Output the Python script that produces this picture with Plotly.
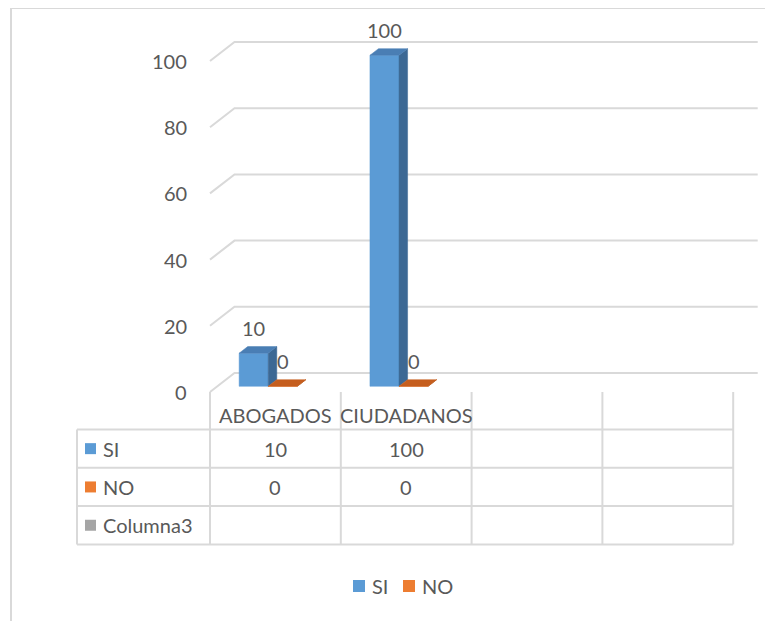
import plotly.graph_objects as go

# ---------------- data ----------------
categories = ["ABOGADOS", "CIUDADANOS", "", ""]
series_names = ["SI", "NO", "Columna3"]
si_values = [10, 100, None, None]
no_values = [0, 0, None, None]
col3_values = [None, None, None, None]
y_ticks = [0, 20, 40, 60, 80, 100]
legend_series = ["SI", "NO"]

# ---------------- styling / geometry ----------------
W, H = 773, 621
OFF = 8  # page body margin in the browser
FONT = "Lato"
TXT = "#595959"
GRID = "#d9d9d9"
front_col = {"SI": "#5B9BD5", "NO": "#ED7D31", "Columna3": "#A5A5A5"}
side_col = {"SI": "#3C6894", "NO": "#A8541B", "Columna3": "#707070"}
top_col = {"SI": "#4A7EB4", "NO": "#C55E1E", "Columna3": "#8A8A8A"}

X_PX0, X_PX_PER = 210.0 - OFF, 130.8     # figure pixel of category 0 left edge
Y_PX0, Y_PX_PER = 392.0 - OFF, 3.31      # figure pixel of value 0 on front plane
DX_PX, DY_PX = 24.5, 19.0                # depth offset of back wall (px)
x_range = [-X_PX0 / X_PX_PER, (W - X_PX0) / X_PX_PER]
y_range = [(Y_PX0 - H) / Y_PX_PER, Y_PX0 / Y_PX_PER]
DX, DY = DX_PX / X_PX_PER, DY_PX / Y_PX_PER
GAP = 1.5
BW = 1.0 / (len(series_names) + GAP)
D0, D1 = 0.3, 0.65                       # bar depth (fraction of floor depth)


def P(x, v, d):
    return x + d * DX, v + d * DY


def px_x(p):  # screen pixel -> paper
    return (p - OFF) / W


def px_y(p):
    return 1 - (p - OFF) / H


fig = go.Figure()

# ---------------- back wall gridlines + side-wall diagonals ----------------
ncat = len(categories)
for t in y_ticks:
    xs, ys = [], []
    for (x, d) in [(0, 0), (0, 1), (ncat, 1)]:
        a, b = P(x, t, d)
        xs.append(a)
        ys.append(b)
    fig.add_trace(go.Scatter(x=xs, y=ys, mode="lines",
                             line=dict(color=GRID, width=2),
                             hoverinfo="skip", showlegend=False))

# ---------------- 3D bars ----------------
series_values = {"SI": si_values, "NO": no_values, "Columna3": col3_values}
labels = []
for ci in range(ncat):
    for si, name in enumerate(series_names):
        v = series_values[name][ci]
        if v is None:
            continue
        x0 = ci + GAP / 2 * BW + si * BW
        x1 = x0 + BW
        faces = []
        faces.append(([P(x0, 0, D0), P(x1, 0, D0), P(x1, v, D0), P(x0, v, D0)], front_col[name]))
        faces.append(([P(x1, 0, D0), P(x1, 0, D1), P(x1, v, D1), P(x1, v, D0)], side_col[name]))
        faces.append(([P(x0, v, D0), P(x1, v, D0), P(x1, v, D1), P(x0, v, D1)], top_col[name]))
        for pts, col in faces:
            xs = [p[0] for p in pts] + [pts[0][0]]
            ys = [p[1] for p in pts] + [pts[0][1]]
            fig.add_trace(go.Scatter(x=xs, y=ys, mode="lines", fill="toself",
                                     fillcolor=col, line=dict(color=col, width=0.5),
                                     hoverinfo="skip", showlegend=False))
        lx, ly = P((x0 + x1) / 2, v, D0)
        labels.append(dict(x=lx, y=ly, text=str(v)))

for lb in labels:
    fig.add_annotation(x=lb["x"], y=lb["y"], xref="x", yref="y", text=lb["text"],
                       showarrow=False, yshift=25, xanchor="center", yanchor="middle",
                       font=dict(family=FONT, size=20, color=TXT))

# ---------------- value axis labels ----------------
for t in y_ticks:
    fig.add_annotation(x=0, y=t, xref="x", yref="y", text=str(t), showarrow=False,
                       xanchor="right", yanchor="middle", xshift=-21,
                       font=dict(family=FONT, size=20, color=TXT))

# ---------------- data table ----------------
ROW_TOP, ROW_H = 429.5, 38.3
HEAD_TOP = 392.0
TBL_LEFT = 77.0
shapes = []
line_style = dict(color=GRID, width=2)
nrows = len(series_names)
tbl_bottom = ROW_TOP + nrows * ROW_H
tbl_right = X_PX0 + OFF + ncat * X_PX_PER
for r in range(nrows + 1):
    yy = px_y(ROW_TOP + r * ROW_H)
    shapes.append(dict(type="line", xref="paper", yref="paper",
                       x0=px_x(TBL_LEFT), x1=px_x(tbl_right), y0=yy, y1=yy,
                       line=line_style))
shapes.append(dict(type="line", xref="paper", yref="paper",
                   x0=px_x(TBL_LEFT), x1=px_x(TBL_LEFT), y0=px_y(ROW_TOP), y1=px_y(tbl_bottom),
                   line=line_style))
for k in range(ncat + 1):
    shapes.append(dict(type="line", xref="x", yref="paper", x0=k, x1=k,
                       y0=px_y(HEAD_TOP), y1=px_y(tbl_bottom), line=line_style))

for ci, c in enumerate(categories):
    if c:
        fig.add_annotation(x=ci + 0.5, y=px_y(415), xref="x", yref="paper", text=c,
                           showarrow=False, xanchor="center", yanchor="middle",
                           font=dict(family=FONT, size=20, color=TXT))

SQ = 11
for r, name in enumerate(series_names):
    cy = ROW_TOP + r * ROW_H + ROW_H / 2
    shapes.append(dict(type="rect", xref="paper", yref="paper",
                       x0=px_x(85), x1=px_x(85 + SQ), y0=px_y(cy - SQ / 2), y1=px_y(cy + SQ / 2),
                       fillcolor=front_col[name], line=dict(width=0)))
    fig.add_annotation(x=px_x(101), y=px_y(cy), xref="paper", yref="paper", text=name,
                       showarrow=False, xanchor="left", yanchor="middle",
                       font=dict(family=FONT, size=20, color=TXT))
    for ci in range(ncat):
        v = series_values[name][ci]
        if v is None:
            continue
        fig.add_annotation(x=ci + 0.5, y=px_y(cy), xref="x", yref="paper", text=str(v),
                           showarrow=False, xanchor="center", yanchor="middle",
                           font=dict(family=FONT, size=20, color=TXT))

# ---------------- legend ----------------
LEG_Y = 586
leg_x = {"SI": 353, "NO": 403}
for name in legend_series:
    x0 = leg_x[name]
    shapes.append(dict(type="rect", xref="paper", yref="paper",
                       x0=px_x(x0), x1=px_x(x0 + 12), y0=px_y(LEG_Y - 6), y1=px_y(LEG_Y + 6),
                       fillcolor=front_col[name], line=dict(width=0)))
    fig.add_annotation(x=px_x(x0 + 17), y=px_y(LEG_Y), xref="paper", yref="paper", text=name,
                       showarrow=False, xanchor="left", yanchor="middle",
                       font=dict(family=FONT, size=20, color=TXT))

# ---------------- chart border ----------------
shapes.append(dict(type="line", xref="paper", yref="paper", x0=px_x(11), x1=px_x(W + 20),
                   y0=px_y(8), y1=px_y(8), line=line_style))
shapes.append(dict(type="line", xref="paper", yref="paper", x0=px_x(11), x1=px_x(11),
                   y0=px_y(8), y1=px_y(H + 20), line=line_style))

fig.update_layout(
    width=W, height=H,
    margin=dict(l=0, r=0, t=0, b=0),
    paper_bgcolor="white", plot_bgcolor="white",
    showlegend=False,
    shapes=shapes,
    xaxis=dict(range=x_range, visible=False, fixedrange=True),
    yaxis=dict(range=y_range, visible=False, fixedrange=True),
    font=dict(family=FONT, color=TXT),
)

fig.write_html("out.html")
